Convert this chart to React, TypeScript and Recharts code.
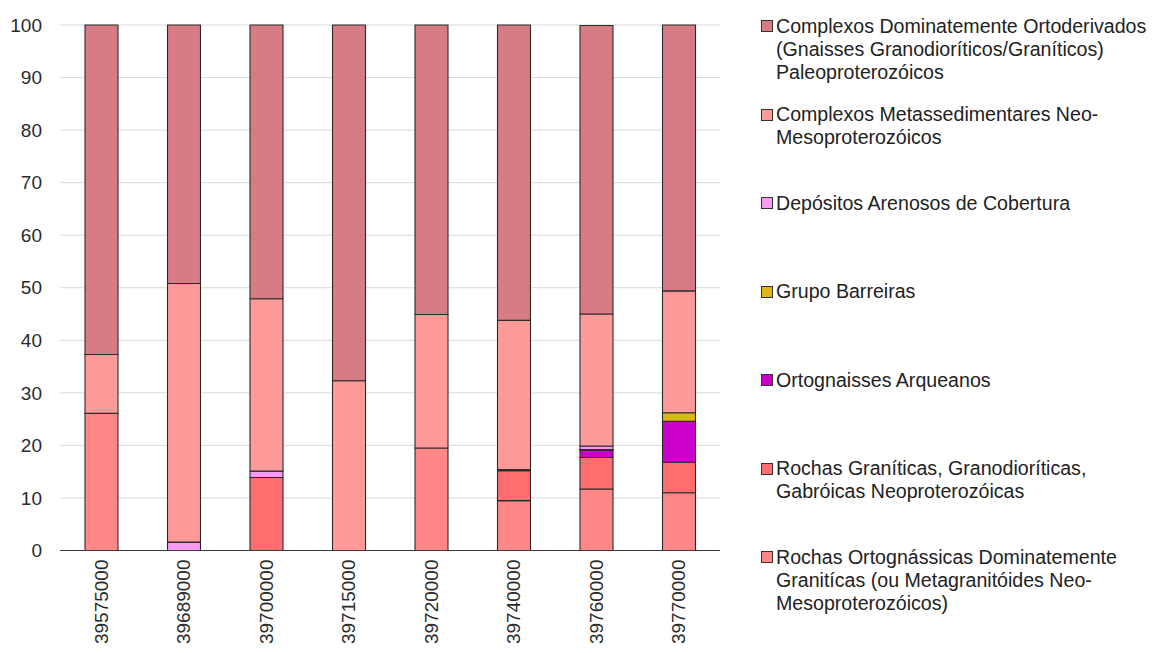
import React from 'react';
import { BarChart, Bar, XAxis, YAxis, CartesianGrid } from 'recharts';

const categories = ['39575000', '39689000', '39700000', '39715000', '39720000', '39740000', '39760000', '39770000'];

// stacked from bottom to top
const rochasOrtognassicas = [26.1, 0, 0, 0, 19.5, 9.5, 11.7, 11.0];
const rochasGraniticas = [0, 0, 13.9, 0, 0, 5.7, 6.0, 5.8];
const ortognaissesArqueanos = [0, 0, 0, 0, 0, 0.2, 1.4, 7.8];
const grupoBarreiras = [0, 0, 0, 0, 0, 0, 0.1, 1.6];
const depositosArenosos = [0, 1.6, 1.2, 0, 0, 0, 0.7, 0];
const complexosMetassedimentares = [11.2, 49.2, 32.8, 32.3, 25.4, 28.4, 25.1, 23.2];
const complexosOrtoderivados = [62.7, 49.2, 52.1, 67.7, 55.1, 56.2, 54.9, 50.6];

const yTicks = [0, 10, 20, 30, 40, 50, 60, 70, 80, 90, 100];

const seriesKeys = ['ro', 'rg', 'oa', 'gb', 'da', 'cm', 'co'];
const seriesValues = [
  rochasOrtognassicas,
  rochasGraniticas,
  ortognaissesArqueanos,
  grupoBarreiras,
  depositosArenosos,
  complexosMetassedimentares,
  complexosOrtoderivados,
];
const seriesColors = ['#FF8787', '#FF6E6E', '#CC00CC', '#DDB615', '#F79BF2', '#FF9A9A', '#D77B84'];
const seriesLabels = [
  ['Rochas Ortognássicas Dominatemente', 'Granitícas (ou Metagranitóides Neo-', 'Mesoproterozóicos)'],
  ['Rochas Graníticas, Granodioríticas,', 'Gabróicas Neoproterozóicas'],
  ['Ortognaisses Arqueanos'],
  ['Grupo Barreiras'],
  ['Depósitos Arenosos de Cobertura'],
  ['Complexos Metassedimentares Neo-', 'Mesoproterozóicos'],
  ['Complexos Dominatemente Ortoderivados', '(Gnaisses Granodioríticos/Graníticos)', 'Paleoproterozóicos'],
];

const data = categories.map((c, i) => {
  const row: any = { name: c };
  seriesKeys.forEach((k, s) => {
    row[k] = seriesValues[s][i];
  });
  return row;
});

const FONT = '"Liberation Sans", Arial, sans-serif';

const XTick = (props: any) => {
  const { x, y, payload } = props;
  return (
    <text
      x={x}
      y={y}
      transform={`rotate(-90, ${x}, ${y})`}
      textAnchor="end"
      dominantBaseline="central"
      fontSize={19}
      fontFamily={FONT}
      fill="#2b2b2b"
    >
      {payload.value}
    </text>
  );
};

const LegendBlock = () => {
  const order = [6, 5, 4, 3, 2, 1, 0];
  return (
    <div style={{ position: 'absolute', left: 755, top: 0, width: 406, height: 653 }}>
      {order.map((s, i) => {
        const center = 26 + 88.5 * i;
        return (
          <div key={s} style={{ position: 'absolute', left: 0, top: center - 11.5 }}>
            <div
              style={{
                position: 'absolute',
                left: 6,
                top: 5.5,
                width: 10,
                height: 10,
                background: seriesColors[s],
                border: '1px solid #333',
              }}
            />
            <div
              style={{
                position: 'absolute',
                left: 21,
                top: 0,
                whiteSpace: 'nowrap',
                fontFamily: FONT,
                fontSize: 19.6,
                lineHeight: '23px',
                color: '#222',
              }}
            >
              {seriesLabels[s].map((l, j) => (
                <div key={j}>{l}</div>
              ))}
            </div>
          </div>
        );
      })}
    </div>
  );
};

export default function App() {
  return (
    <div style={{ position: 'absolute', left: 0, top: 0, width: 1161, height: 653, background: '#fff' }}>
      <BarChart
        width={1161}
        height={653}
        data={data}
        margin={{ top: 25, right: 441, bottom: 0, left: 0 }}
        barCategoryGap={0}
      >
        <CartesianGrid vertical={false} stroke="#d9d9d9" strokeWidth={1} />
        <XAxis
          dataKey="name"
          height={102.5}
          tick={<XTick />}
          tickLine={false}
          tickSize={0}
          tickMargin={9}
          axisLine={{ stroke: '#3a3a3a', strokeWidth: 1.2 }}
          interval={0}
        />
        <YAxis
          width={60}
          domain={[0, 100]}
          ticks={yTicks}
          interval={0}
          axisLine={false}
          tickLine={false}
          tickSize={0}
          tickMargin={18}
          tick={{ fontSize: 19, fontFamily: FONT, fill: '#2b2b2b' }}
        />
        {seriesKeys.map((k, s) => (
          <Bar
            key={k}
            dataKey={k}
            stackId="a"
            fill={seriesColors[s]}
            stroke="#2a2a2a"
            strokeWidth={1.1}
            barSize={33}
            isAnimationActive={false}
          />
        ))}
      </BarChart>
      <LegendBlock />
    </div>
  );
}
